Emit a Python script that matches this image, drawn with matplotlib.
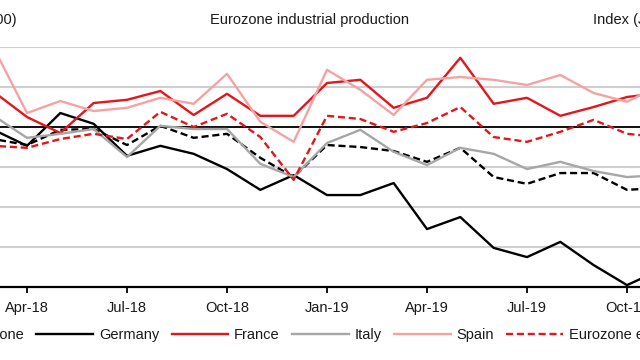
import matplotlib.pyplot as plt
import numpy as np

plt.rcParams['font.family'] = ['Liberation Sans', 'DejaVu Sans']

# Monthly index, Jan 2018 = 100 (first visible point is Mar-18)
months = ['Mar-18', 'Apr-18', 'May-18', 'Jun-18', 'Jul-18', 'Aug-18', 'Sep-18',
          'Oct-18', 'Nov-18', 'Dec-18', 'Jan-19', 'Feb-19', 'Mar-19', 'Apr-19',
          'May-19', 'Jun-19', 'Jul-19', 'Aug-19', 'Sep-19', 'Oct-19', 'Nov-19']

eurozone = [99.69, 99.54, 99.92, 99.94, 99.54, 100.02, 99.72, 99.82, 99.22, 98.74,
            99.54, 99.49, 99.39, 99.12, 99.47, 98.74, 98.57, 98.84, 98.84, 98.42, 98.47]
germany = [99.92, 99.52, 100.34, 100.07, 99.27, 99.52, 99.32, 98.94, 98.42, 98.79,
           98.29, 98.29, 98.59, 97.44, 97.74, 96.97, 96.74, 97.12, 96.54, 96.04, 96.42]
france = [100.87, 100.24, 99.84, 100.59, 100.67, 100.89, 100.29, 100.82, 100.27, 100.27,
          101.09, 101.17, 100.47, 100.72, 101.72, 100.57, 100.72, 100.27, 100.49, 100.74, 100.84]
italy = [100.27, 99.72, 99.82, 99.94, 99.24, 100.02, 99.94, 99.94, 99.07, 98.74,
         99.59, 99.92, 99.37, 99.04, 99.47, 99.32, 98.94, 99.12, 98.89, 98.74, 98.79]
spain = [101.97, 100.34, 100.64, 100.39, 100.47, 100.72, 100.57, 101.32, 100.12, 99.62,
         101.42, 100.92, 100.29, 101.17, 101.24, 101.17, 101.04, 101.29, 100.84, 100.62, 101.04]
ez_ex_de = [99.52, 99.47, 99.69, 99.82, 99.69, 100.37, 99.99, 100.32, 99.74, 98.67,
            100.27, 100.19, 99.87, 100.09, 100.49, 99.74, 99.62, 99.87, 100.17, 99.82, 99.74]

tick_labels = ['Apr-18', 'Jul-18', 'Oct-18', 'Jan-19', 'Apr-19', 'Jul-19', 'Oct-19']
yticks = [96, 97, 98, 99, 100, 101, 102]

RED = '#e3161b'
dash = (0, (3, 1.6))
LW = 1.7

x = np.arange(len(months))

fig = plt.figure(figsize=(6.4, 3.6), dpi=100)
# the chart is cropped on both sides, so the axes run past the canvas edges
ax = fig.add_axes([0, 0.2036, 1, 0.667])

ax.plot(x, eurozone, color='black', lw=LW, ls=dash, label='Eurozone')
ax.plot(x, germany, color='black', lw=LW, label='Germany')
ax.plot(x, france, color=RED, lw=LW, label='France')
ax.plot(x, italy, color='#a6a6a6', lw=LW, label='Italy')
ax.plot(x, spain, color='#f4a3a3', lw=LW, label='Spain')
ax.plot(x, ez_ex_de, color=RED, lw=LW, ls=dash, label='Eurozone ex Germany')

ax.axhline(100, color='black', lw=1.3, zorder=1)

ax.set_xlim(0.19, 19.39)
ax.set_ylim(96, 102)
ax.set_yticks(yticks)
ax.yaxis.grid(True, color='#cfcfcf', lw=1.5)
ax.set_axisbelow(True)
ax.tick_params(axis='y', left=False, labelleft=False)

pos = [months.index(m) for m in tick_labels]
ax.set_xticks(pos)
ax.set_xticklabels(tick_labels, fontsize=10.5, color='#1a1a1a')
ax.tick_params(axis='x', direction='out', length=4.5, width=1.3, color='black', pad=6)

for s in ['top', 'left', 'right']:
    ax.spines[s].set_visible(False)
ax.spines['bottom'].set_linewidth(1.6)
ax.spines['bottom'].set_color('black')

fig.text(0.484, 0.944, 'Eurozone industrial production', ha='center', va='center',
         fontsize=10.5, color='#1a1a1a')
fig.text(0.0266, 0.944, 'Index (Jan 2018 = 100)', ha='right', va='center',
         fontsize=10.5, color='#1a1a1a')
fig.text(0.927, 0.944, 'Index (Jan 2018 = 100)', ha='left', va='center',
         fontsize=10.5, color='#1a1a1a')

fig.legend(loc='center left', bbox_to_anchor=(-0.158, 0.07), ncol=6, frameon=False,
           fontsize=10.5, handlelength=3.9, handletextpad=0.4, columnspacing=0.83,
           borderaxespad=0, borderpad=0, labelcolor='#1a1a1a')

fig.savefig('out.png', dpi=100)
